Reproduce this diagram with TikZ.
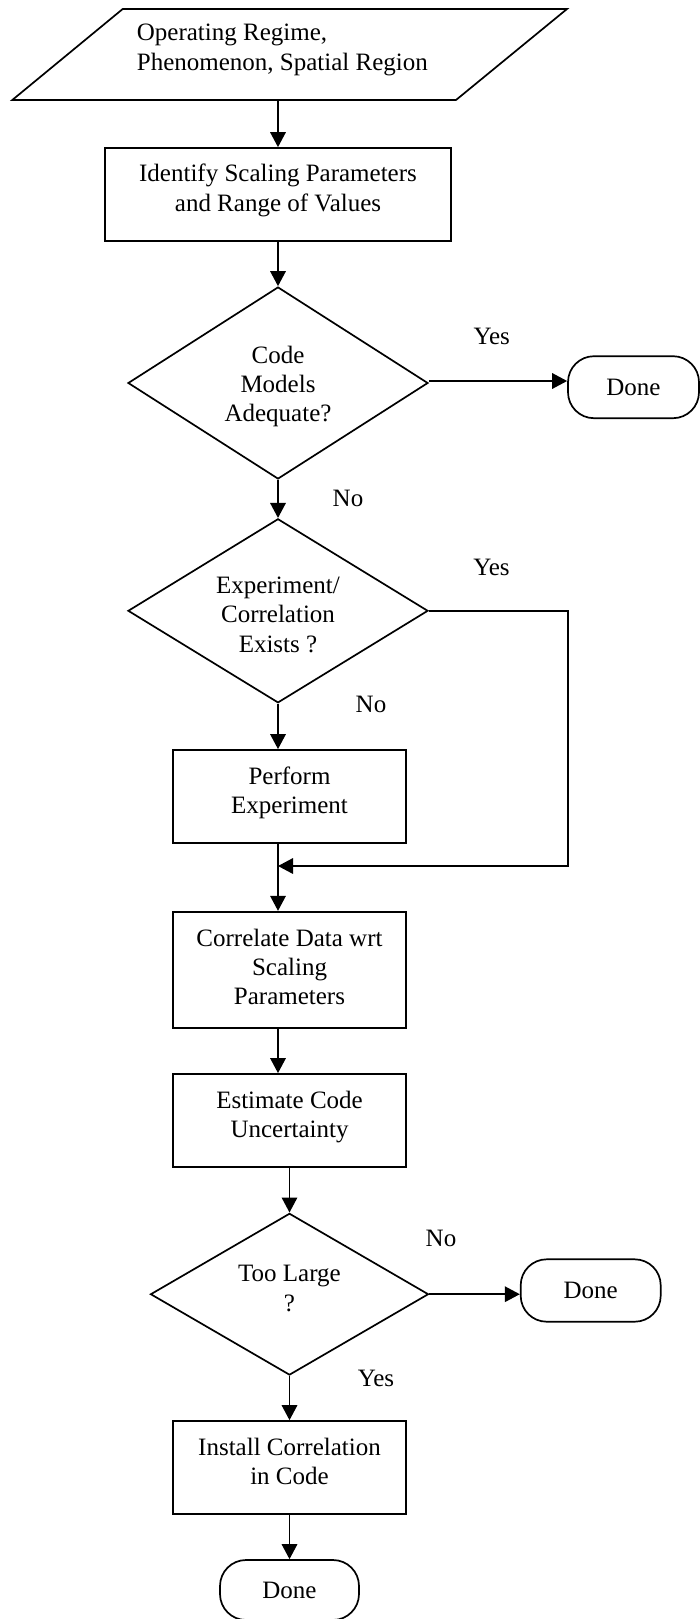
\documentclass[tikz,border=0pt]{standalone}
\usepackage{fontspec}
\setmainfont{Liberation Serif}
\usetikzlibrary{shapes.geometric,arrows.meta,calc}
% invisible rules that fix the height of a first line and the depth of a last line
\newcommand{\upstrut}[1]{\rule{0pt}{#1pt}}
\newcommand{\downstrut}[1]{\rule[-#1pt]{0pt}{0pt}}
\begin{document}
\begin{tikzpicture}[x=1pt,y=-1pt,
  every node/.style={font=\fontsize{25}{29.3}\selectfont, inner sep=0pt},
  line/.style={line width=1.7pt},
  procbox/.style={draw, line width=1.7pt, rectangle, align=center},
  decision/.style={draw, line width=1.7pt, diamond, align=center},
  terminal/.style={draw, line width=1.7pt, rectangle, rounded corners=26pt, align=center},
  flow/.style={line width=1.7pt, -{Triangle[length=15pt,width=15.5pt]}},
  answer/.style={anchor=base}
]
\useasboundingbox (0,0) rectangle (699,1619);

% input parallelogram
\draw[line] (122.7,9) -- (567,9) -- (456,100) -- (12.3,100) -- cycle;
\node[anchor=north west, align=left] (inputtext) at (136.7,20.7)
  {\upstrut{20}Operating Regime,\\Phenomenon, Spatial Region};
\coordinate (inputbase) at (278,100);

% process steps
\node[procbox, minimum width=346pt, minimum height=93pt] (scaling) at (278,194.5)
  {\upstrut{20}Identify Scaling Parameters\\and Range of Values\downstrut{16.3}};
\node[decision, aspect=1.5625, minimum width=300pt, minimum height=192pt] (adequate) at (278,383)
  {\upstrut{25.5}Code\\Models\\Adequate?\downstrut{6.3}};
\node[terminal, minimum width=131pt, minimum height=62pt] (done1) at (633.5,387.2) {Done};
\node[decision, aspect=1.63, minimum width=300pt, minimum height=184pt] (exists) at (278,610.8)
  {\upstrut{30.5}Experiment/\\Correlation\\Exists ?\downstrut{6.7}};
\node[procbox, minimum width=232.4pt, minimum height=92.7pt] (perform) at (289.5,796.3)
  {\upstrut{20}Perform\\Experiment\downstrut{15.3}};
\node[procbox, minimum width=232.4pt, minimum height=116pt] (correlate) at (289.5,969.7)
  {\upstrut{20}Correlate Data wrt\\Scaling\\Parameters\downstrut{8.8}};
\node[procbox, minimum width=232.4pt, minimum height=92.7pt] (estimate) at (289.5,1120.3)
  {\upstrut{20}Estimate Code\\Uncertainty\downstrut{14.7}};
\node[decision, aspect=1.72, minimum width=278pt, minimum height=161.7pt] (toolarge) at (289.5,1294.2)
  {\upstrut{20}Too Large\\?\downstrut{15.3}};
\node[terminal, minimum width=140pt, minimum height=62.4pt] (done2) at (590.7,1290.5) {Done};
\node[procbox, minimum width=232.4pt, minimum height=93pt] (install) at (289.5,1467.5)
  {\upstrut{20}Install Correlation\\in Code\downstrut{15.7}};
\node[terminal, minimum width=139pt, minimum height=60pt] (done3) at (289.5,1590) {Done};

% branch labels
\node[answer] (yes1) at (491.7,344) {Yes};
\node[answer] (no1) at (348,506) {No};
\node[answer] (yes2) at (491.5,575) {Yes};
\node[answer] (no2) at (371,712.7) {No};
\node[answer] (no3) at (441,1246.7) {No};
\node[answer] (yes3) at (376,1386) {Yes};

% connectors
\coordinate (merge) at (278,866);
\coordinate (loopx) at (567.7,0);
\draw[flow] (inputbase) -- (inputbase |- scaling.north);
\draw[flow] (scaling) -- (adequate);
\draw[flow] (adequate) -- (exists);
\draw[flow] ([yshift=2pt]adequate.east) -- ([yshift=2pt]adequate.east -| done1.west);
\draw[flow] (exists.south) -- (exists.south |- perform.north);
\draw[flow] (exists.south |- perform.south) -- (exists.south |- correlate.north);
\draw[flow] (exists.east) -- (exists.east -| loopx) |- (merge);
\draw[flow] (exists.south |- correlate.south) -- (exists.south |- estimate.north);
\draw[flow] (estimate) -- (toolarge);
\draw[flow] (toolarge.east) -- (toolarge.east -| done2.west);
\draw[flow] (toolarge) -- (install);
\draw[flow] (install) -- (done3);
\end{tikzpicture}
\end{document}
